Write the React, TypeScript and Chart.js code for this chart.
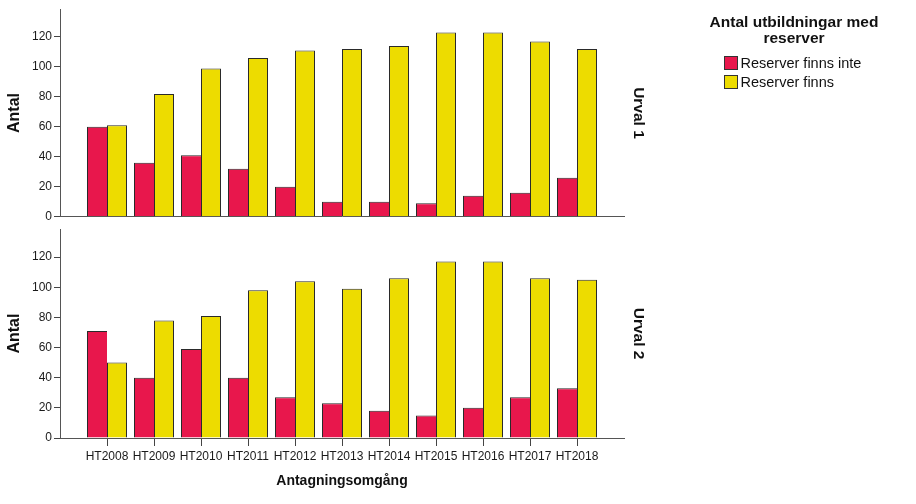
import React, { useEffect, useRef } from "react";
import { Chart, registerables } from "chart.js";

Chart.register(...registerables);

// ---- data ----
const categories = ["HT2008", "HT2009", "HT2010", "HT2011", "HT2012", "HT2013", "HT2014", "HT2015", "HT2016", "HT2017", "HT2018"];
const seriesNames = ["Reserver finns inte", "Reserver finns"];
const urval1Inte = [60, 36, 41, 32, 20, 10, 10, 9, 14, 16, 26];
const urval1Finns = [61, 82, 99, 106, 111, 112, 114, 123, 123, 117, 112];
const urval2Inte = [71, 40, 59, 40, 27, 23, 18, 15, 20, 27, 33];
const urval2Finns = [50, 78, 81, 98, 104, 99, 106, 117, 117, 106, 105];
const yTickValues = [0, 20, 40, 60, 80, 100, 120];
const panelLabels = ["Urval 1", "Urval 2"];
const legendTitle = ["Antal utbildningar med", "reserver"];
const yTitle = "Antal";
const xTitle = "Antagningsomgång";

const seriesColors = ["#E8174C", "#EDDC00"];
const FONT = '"Liberation Sans", Arial, Helvetica, sans-serif';

function makePanel(canvas: HTMLCanvasElement, inte: number[], finns: number[], panelIndex: number) {
  const isBottom = panelIndex === 1;
  const canvasH = canvas.height;
  const textPlugin = {
    id: "panelText" + panelIndex,
    afterDraw(chart: any) {
      const ctx = chart.ctx as CanvasRenderingContext2D;
      const area = chart.chartArea;
      const midY = (area.top + area.bottom) / 2;
      ctx.save();
      ctx.fillStyle = "#111";
      ctx.textAlign = "center";
      ctx.textBaseline = "middle";
      // y title
      ctx.save();
      ctx.translate(14.5, midY);
      ctx.rotate(-Math.PI / 2);
      ctx.font = `bold 16px ${FONT}`;
      ctx.fillText(yTitle, 0, 0);
      ctx.restore();
      // panel label
      ctx.save();
      ctx.translate(638.5, midY);
      ctx.rotate(Math.PI / 2);
      ctx.font = `bold 15.5px ${FONT}`;
      ctx.fillText(panelLabels[panelIndex], 0, 0);
      ctx.restore();
      if (isBottom) {
        ctx.font = `bold 14px ${FONT}`;
        ctx.fillText(xTitle, (area.left + area.right) / 2, 261.5);
      } else {
        ctx.font = `bold 15.5px ${FONT}`;
        ctx.fillText(legendTitle[0], 794, 23);
        ctx.fillText(legendTitle[1], 794, 39);
        ctx.textAlign = "left";
        ctx.font = `14.5px ${FONT}`;
        chart.data.datasets.forEach((ds: any, i: number) => {
          const y = 56.5 + i * 19;
          ctx.fillStyle = ds.backgroundColor;
          ctx.fillRect(724.5, y, 13, 13);
          ctx.strokeStyle = "#333";
          ctx.lineWidth = 1;
          ctx.strokeRect(724.5, y, 13, 13);
          ctx.fillStyle = "#111";
          ctx.fillText(ds.label, 740.5, y + 7);
        });
      }
      ctx.restore();
    },
  };

  return new Chart(canvas, {
    type: "bar",
    data: {
      datasets: [
        {
          label: seriesNames[0],
          data: inte.map((v, i) => ({ x: i, y: v })),
          backgroundColor: seriesColors[0],
          borderColor: "#2a2a2a",
          borderWidth: { top: 1, left: 1, right: 0, bottom: 0 },
        },
        {
          label: seriesNames[1],
          data: finns.map((v, i) => ({ x: i, y: v })),
          backgroundColor: seriesColors[1],
          borderColor: "#2a2a2a",
          borderWidth: { top: 1, left: 1, right: 1, bottom: 0 },
        },
      ],
    } as any,
    options: {
      responsive: false,
      animation: false,
      devicePixelRatio: 1,
      categoryPercentage: 40 / 47,
      barPercentage: 1,
      inflateAmount: 0,
      layout: { padding: { top: isBottom ? 6 : 8, right: 292, left: 0, bottom: 0 } },
      plugins: { legend: { display: false }, tooltip: { enabled: false }, title: { display: false } },
      scales: {
        x: {
          type: "linear",
          min: -1,
          max: 11,
          offset: false,
          afterBuildTicks: (s: any) => {
            s.ticks = categories.map((_, i) => ({ value: i }));
          },
          afterFit: (s: any) => {
            s.height = isBottom ? canvasH - 218 : canvasH - 219;
          },
          grid: {
            display: true,
            offset: false,
            drawOnChartArea: false,
            drawTicks: isBottom,
            tickLength: 8,
            tickColor: "#444",
            color: "#444",
          },
          border: { display: true, color: "#555", width: 1 },
          ticks: {
            display: isBottom,
            autoSkip: false,
            maxRotation: 0,
            minRotation: 0,
            padding: 3,
            color: "#1a1a1a",
            font: { family: FONT, size: 12 },
            callback: (v: any) => categories[v] ?? "",
          },
        },
        y: {
          min: 0,
          max: 138.5,
          afterBuildTicks: (s: any) => {
            s.ticks = yTickValues.map((v) => ({ value: v }));
          },
          afterFit: (s: any) => {
            s.width = 60;
          },
          grid: { drawOnChartArea: false, drawTicks: true, tickLength: 6, tickColor: "#444", color: "#444" },
          border: { display: true, color: "#555", width: 1 },
          ticks: {
            padding: 2,
            color: "#1a1a1a",
            font: { family: FONT, size: 12 },
            callback: (v: any) => String(v),
          },
        },
      },
    } as any,
    plugins: [textPlugin],
  });
}

export default function App() {
  const topRef = useRef<HTMLCanvasElement>(null);
  const bottomRef = useRef<HTMLCanvasElement>(null);

  useEffect(() => {
    const charts: Chart[] = [];
    if (topRef.current) charts.push(makePanel(topRef.current, urval1Inte, urval1Finns, 0));
    if (bottomRef.current) charts.push(makePanel(bottomRef.current, urval2Inte, urval2Finns, 1));
    return () => charts.forEach((c) => c.destroy());
  }, []);

  return (
    <div style={{ position: "absolute", left: 0, top: 0, width: 916, height: 504, background: "#fff", overflow: "hidden" }}>
      <canvas ref={topRef} width={916} height={226} style={{ position: "absolute", left: 0, top: 0, width: 916, height: 226 }} />
      <canvas ref={bottomRef} width={916} height={284} style={{ position: "absolute", left: 0, top: 220, width: 916, height: 284 }} />
    </div>
  );
}
